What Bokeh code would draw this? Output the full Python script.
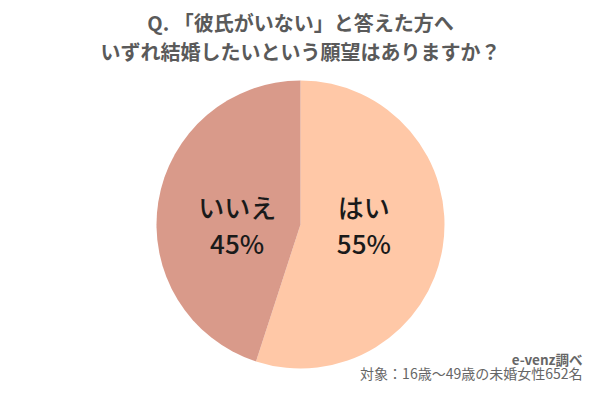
import math
from bokeh.plotting import figure
from bokeh.models import Range1d, ColumnDataSource
from bokeh.core.properties import value
from bokeh.embed import file_html
from bokeh.resources import INLINE

title_lines = ["Q. 「彼氏がいない」と答えた方へ", "いずれ結婚したいという願望はありますか？"]
categories = ["はい", "いいえ"]
values = [55, 45]
colors = ["#FFC8A7", "#D99A8A"]
source_lines = ["e-venz調べ", "対象：16歳～49歳の未婚女性652名"]

W, H = 584, 384
p = figure(width=W, height=H, output_backend="svg", toolbar_location=None,
           x_range=Range1d(0, W), y_range=Range1d(400 - H, 400),
           min_border=0, outline_line_color=None)
p.axis.visible = False
p.grid.visible = False
p.background_fill_color = "white"
p.border_fill_color = "white"

FONT = value("Noto Sans CJK JP")
FONT_MED = value("Noto Sans CJK JP Medium")

# pie: start at top, going clockwise
cx, cy, r = 300, 400 - 224, 144
total = sum(values)
starts, ends, lx, ly, pct = [], [], [], [], []
cum = 0
for v in values:
    a0 = math.pi / 2 - 2 * math.pi * cum / total
    a1 = math.pi / 2 - 2 * math.pi * (cum + v) / total
    starts.append(a1)
    ends.append(a0)
    mid = (a0 + a1) / 2
    side = 1 if math.cos(mid) > 0 else -1
    lx.append(cx + side * 0.44 * r)
    ly.append(cy)
    pct.append(f"{round(100 * v / total)}%")
    cum += v

src = ColumnDataSource(dict(start=starts, end=ends, color=colors, cat=categories,
                            lx=lx, ly=ly, pct=pct))
p.wedge(x=cx, y=cy, radius=r, start_angle="start", end_angle="end",
        fill_color="color", line_color=None, source=src)

p.text(x="lx", y="ly", text="cat", source=src, text_font=FONT_MED, y_offset=-18,
       text_font_size="26px", text_color="#1a1a1a",
       text_align="center", text_baseline="middle")
p.text(x="lx", y="ly", text="pct", source=src, text_font=FONT_MED, y_offset=18,
       text_font_size="26px", text_color="#1a1a1a",
       text_align="center", text_baseline="middle")

# title
p.text(x=[300, 300], y=[400 - 22, 400 - 51], text=title_lines, text_font=FONT,
       text_font_size="20px", text_font_style="bold", text_color="#5a5a5a",
       text_align="center", text_baseline="middle")

# source
p.text(x=[582], y=[400 - 358], text=[source_lines[0]], text_font=FONT,
       text_font_size="13.5px", text_font_style="bold", text_color="#666666",
       text_align="right", text_baseline="middle")
p.text(x=[582], y=[400 - 372], text=[source_lines[1]], text_font=FONT,
       text_font_size="14px", text_color="#666666",
       text_align="right", text_baseline="middle")

open("out.html", "w").write(file_html(p, INLINE))
